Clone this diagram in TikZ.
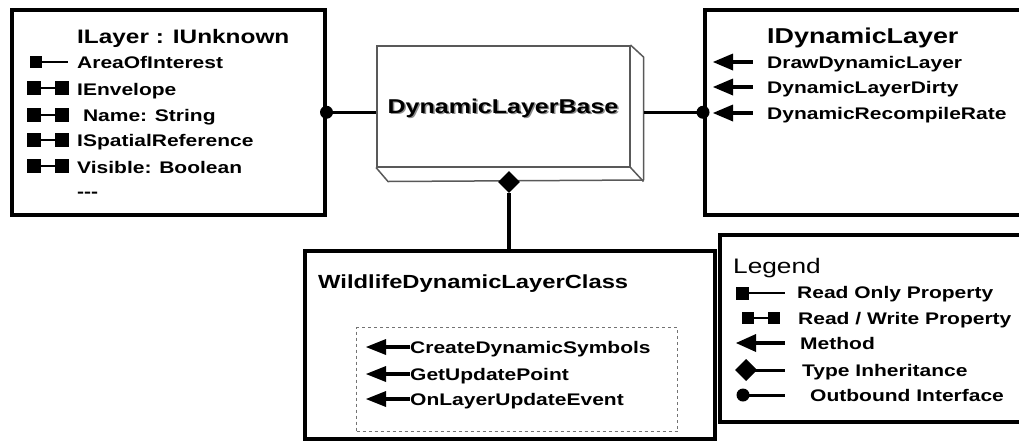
\documentclass[tikz,border=0pt]{standalone}
\usepackage{fontspec}
\setmainfont{Liberation Sans}[FakeStretch=1.25]
\usetikzlibrary{shapes.geometric}
\newcommand\roicon[4]{% x, y, end x, size
  \fill (#1,{#2-#4/2}) rectangle ++(#4,#4);
  \draw[line width=2.5pt] ({#1+#4-1},#2) -- (#3,#2);}
\newcommand\rwicon[4]{% left x, y, right x, size
  \fill (#1,{#2-#4/2}) rectangle ++(#4,#4);
  \fill (#3,{#2-#4/2}) rectangle ++(#4,#4);
  \draw[line width=2.5pt] (#1,#2) -- (#3,#2);}
\newcommand\methicon[4]{% tip x, y, end x, half height
  \fill (#1,#2) -- ({#1+20},{#2-#4}) -- ({#1+20},{#2+#4}) -- cycle;
  \draw[line width=4pt] ({#1+18},#2) -- (#3,#2);}
\begin{document}
\begin{tikzpicture}[x=1pt,y=-1pt,
  box/.style={draw=black,line width=3.5pt,fill=white,anchor=north west,inner sep=0pt},
  conn/.style={line width=3.5pt},
  title/.style={anchor=base west,inner sep=0pt,font=\fontsize{20}{24}\selectfont\bfseries},
  item/.style={anchor=base west,inner sep=0pt,font=\fontsize{16.8}{20}\selectfont\bfseries},
  dlbline/.style={draw=black!65,line width=1.5pt},
]
\useasboundingbox (0,0) rectangle (1019,440);

% boxes
\node[box,minimum width=313,minimum height=205] (ilayer) at (10,8) {};
\node[box,minimum width=318,minimum height=205] (idl) at (703,8) {};
\node[box,minimum width=410,minimum height=188] (wild) at (303,249) {};
\node[box,minimum width=303,minimum height=187] (legend) at (718,233) {};
\node[draw=black!55,dashed,line width=1pt,minimum width=321,minimum height=104,anchor=north west,inner sep=0pt] (methods) at (356,327) {};

% DynamicLayerBase 3D box
\node[dlbline,fill=white,minimum width=253,minimum height=121,anchor=north west,inner sep=0pt] (dlb) at (376,45) {};
\draw[dlbline,line join=round] (dlb.north east) -- ++(13,12) -- ++(0,123) -- ([xshift=12pt,yshift=-14pt]dlb.south west) -- (dlb.south west);
\draw[dlbline] (dlb.south east) -- ++(13,14);
\coordinate (dlbR) at ([xshift=13pt]dlb.east);
\node[text=black!45,font=\fontsize{20}{24}\selectfont\bfseries,inner sep=0pt] (dlbts) at (504.5,109.5) {DynamicLayerBase};
\node[font=\fontsize{20}{24}\selectfont\bfseries,inner sep=0pt] (dlbt) at (503,108) {DynamicLayerBase};

% connectors
\draw[conn] (ilayer.east) -- (ilayer.east -| dlb.west);
\fill (ilayer.east) circle (6.5pt);
\draw[conn] (idl.west) -- (idl.west -| dlbR);
\fill (idl.west) circle (6.5pt);
\node[diamond,fill=black,minimum width=22,minimum height=22,inner sep=0pt] (diam) at (509,182) {};
\draw[conn] (diam.south) -- (diam.south |- wild.north);

% ILayer
\node[title,font=\fontsize{19.5}{24}\selectfont\bfseries] (ilt) at (77,43) {ILayer : IUnknown};
\node[item] (il1) at (77,68) {AreaOfInterest};
\node[item] (il2) at (77,95) {IEnvelope};
\node[item] (il3) at (77,121) {\ Name: String};
\node[item] (il4) at (77,146) {ISpatialReference};
\node[item] (il5) at (77,173) {Visible: Boolean};
\node[item] (il6) at (77,197) {-{}-{}-};
\roicon{30}{62}{68}{12}
\rwicon{27}{88}{55}{14}
\rwicon{27}{115}{55}{14}
\rwicon{27}{140}{55}{14}
\rwicon{27}{166}{55}{14}

% IDynamicLayer
\node[title,font=\fontsize{21.5}{24}\selectfont\bfseries] (idt) at (767,43) {IDynamicLayer};
\node[item] (id1) at (767,68) {DrawDynamicLayer};
\node[item] (id2) at (767,93) {DynamicLayerDirty};
\node[item] (id3) at (767,119) {DynamicRecompileRate};
\methicon{713}{62}{753}{8.5}
\methicon{713}{87}{753}{8.5}
\methicon{713}{113}{753}{8.5}

% Wildlife
\node[title,font=\fontsize{19}{24}\selectfont\bfseries] (wt) at (318,288) {WildlifeDynamicLayerClass};
\node[item] (w1) at (410,353) {CreateDynamicSymbols};
\node[item] (w2) at (410,380) {GetUpdatePoint};
\node[item] (w3) at (410,405) {OnLayerUpdateEvent};
\methicon{366}{347}{410}{8}
\methicon{366}{374}{410}{8}
\methicon{366}{399}{410}{8}

% Legend
\node[title,font=\fontsize{21}{24}\selectfont] (lt) at (733,273) {Legend};
\node[item] (l1) at (797,298) {Read Only Property};
\node[item] (l2) at (798,324) {Read / Write Property};
\node[item] (l3) at (800,349) {Method};
\node[item] (l4) at (802,376) {Type Inheritance};
\node[item] (l5) at (810,401) {Outbound Interface};
\roicon{736}{293}{785}{13}
\rwicon{742}{318}{768}{12}
\methicon{736}{343}{785}{9}
\fill (735,370) -- (746,359) -- (757,370) -- (746,381) -- cycle;
\draw[line width=3pt] (750,370) -- (785,370);
\fill (743,395) circle (6.5pt);
\draw[line width=3pt] (743,395) -- (785,395);
\end{tikzpicture}
\end{document}
